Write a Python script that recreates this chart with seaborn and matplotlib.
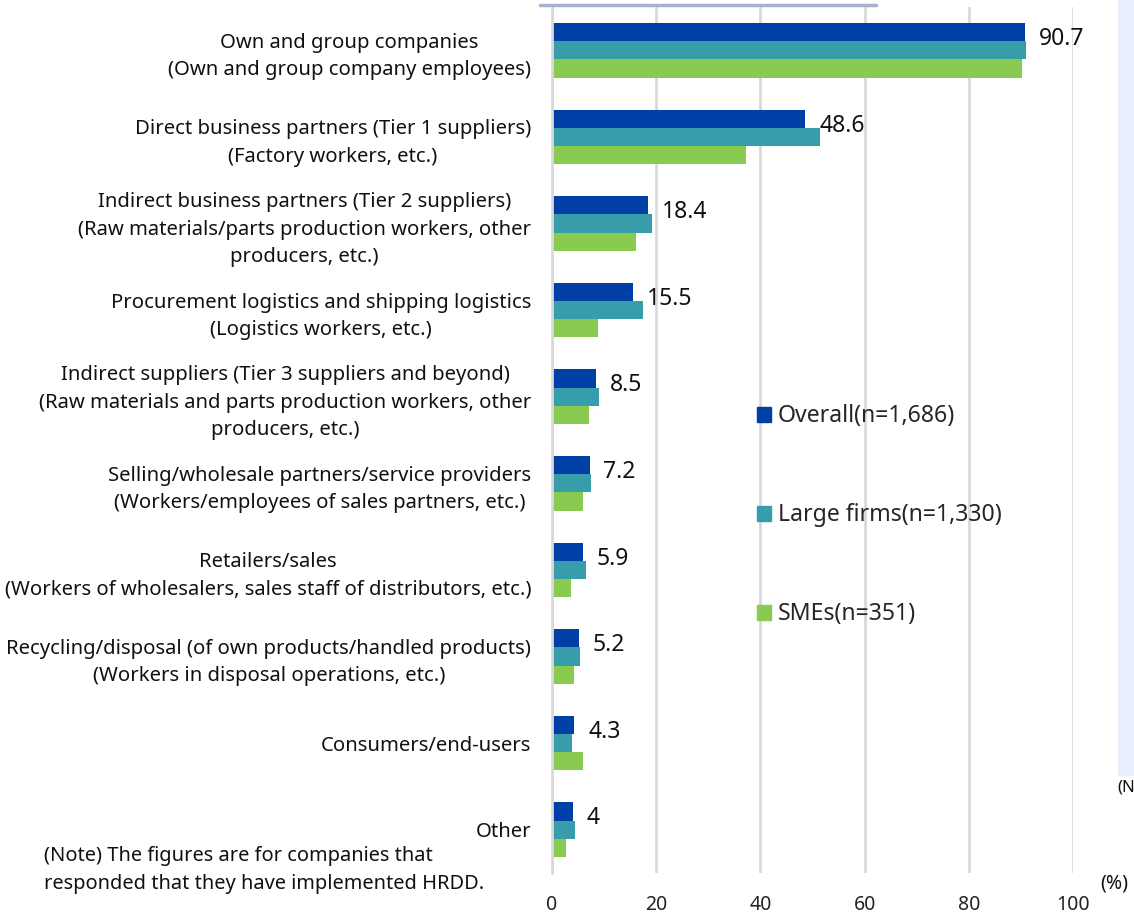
import matplotlib
matplotlib.use("Agg")
import matplotlib.pyplot as plt
import seaborn as sns
import pandas as pd
from matplotlib.patches import Rectangle
from matplotlib.lines import Line2D

categories = [
    "Own and group companies\n(Own and group company employees)",
    "Direct business partners (Tier 1 suppliers)\n(Factory workers, etc.)",
    "Indirect business partners (Tier 2 suppliers)\n(Raw materials/parts production workers, other\nproducers, etc.)",
    "Procurement logistics and shipping logistics\n(Logistics workers, etc.)",
    "Indirect suppliers (Tier 3 suppliers and beyond)\n(Raw materials and parts production workers, other\nproducers, etc.)",
    "Selling/wholesale partners/service providers\n(Workers/employees of sales partners, etc.)",
    "Retailers/sales\n(Workers of wholesalers, sales staff of distributors, etc.)",
    "Recycling/disposal (of own products/handled products)\n(Workers in disposal operations, etc.)",
    "Consumers/end-users",
    "Other",
]
series_names = ["Overall(n=1,686)", "Large firms(n=1,330)", "SMEs(n=351)"]
overall = [90.7, 48.6, 18.4, 15.5, 8.5, 7.2, 5.9, 5.2, 4.3, 4.0]
large = [91.0, 51.5, 19.1, 17.4, 9.0, 7.4, 6.5, 5.4, 3.8, 4.4]
smes = [90.2, 37.3, 16.1, 8.8, 7.1, 6.0, 3.7, 4.3, 6.0, 2.6]
overall_labels = ["90.7", "48.6", "18.4", "15.5", "8.5", "7.2", "5.9", "5.2", "4.3", "4"]
xticks = [0, 20, 40, 60, 80, 100]
colors = ["#0040A6", "#389DAA", "#88CB50"]

rows = []
for name, vals in zip(series_names, [overall, large, smes]):
    for c, v in zip(categories, vals):
        rows.append({"category": c, "series": name, "value": v})
df = pd.DataFrame(rows)

sns.set_theme(style="white")
plt.rcParams["font.family"] = ["Noto Sans", "DejaVu Sans"]

fig = plt.figure(figsize=(11.34, 9.15), dpi=100)
ax = fig.add_axes([552 / 1134, 1 - 873 / 915, (1073 - 552) / 1134, (873 - 7) / 915])

sns.barplot(data=df, y="category", x="value", hue="series", order=categories,
            hue_order=series_names, palette=colors, orient="h", width=0.63,
            saturation=1, ax=ax, linewidth=0)

ax.set_xlim(0, 100)
ax.set_xticks(xticks)
ax.set_xticklabels([str(t) for t in xticks], fontsize=14, color="#222222")
ax.set_xlabel("")
ax.set_ylabel("")
ax.grid(axis="x", color="#d9d9d9", linewidth=2)
ax.set_axisbelow(True)
for s in ["top", "right", "bottom"]:
    ax.spines[s].set_visible(False)
ax.spines["left"].set_color("#d9d9d9")
ax.spines["left"].set_linewidth(2)
ax.tick_params(axis="x", length=0, pad=16)
ax.tick_params(axis="y", length=0, pad=15)
for lab in ax.get_yticklabels():
    lab.set_fontsize(14.6)
    lab.set_multialignment("center")
    lab.set_linespacing(1.5)
    lab.set_color("#111111")

texts = ax.bar_label(ax.containers[0], labels=overall_labels, padding=10,
                     fontsize=16.5, color="#111111")
for t in texts:
    t.xyann = (10, -5)

handles = [Rectangle((0, 0), 1, 1, color=c) for c in colors]
ax.legend(handles, series_names, loc="upper left", bbox_to_anchor=(0.393, 0.541),
          frameon=False, fontsize=16.6, handlelength=0.6, handleheight=0.6,
          handletextpad=0.3, labelspacing=3.25, borderpad=0, borderaxespad=0)

fig.text(1100 / 1134, 1 - 883 / 915, "(%)", fontsize=14, va="center", ha="left",
         color="#111111")
fig.text(44 / 1134, 1 - 870 / 915,
         "(Note) The figures are for companies that\nresponded that they have implemented HRDD.",
         fontsize=14.4, va="center", ha="left", linespacing=1.5, color="#111111")

fig.patches.append(Rectangle((1118 / 1134, 1 - 775 / 915), 20 / 1134, 775 / 915,
                             transform=fig.transFigure, color="#E8EEFB", zorder=0))
fig.text(1117 / 1134, 1 - 787 / 915, "(N", fontsize=12, va="center", ha="left",
         color="#111111")
fig.lines.append(Line2D([540 / 1134, 876 / 1134], [1 - 5 / 915, 1 - 5 / 915],
                        transform=fig.transFigure, color="#A9B2CC", linewidth=2.5))

fig.savefig("out.png", dpi=100)
